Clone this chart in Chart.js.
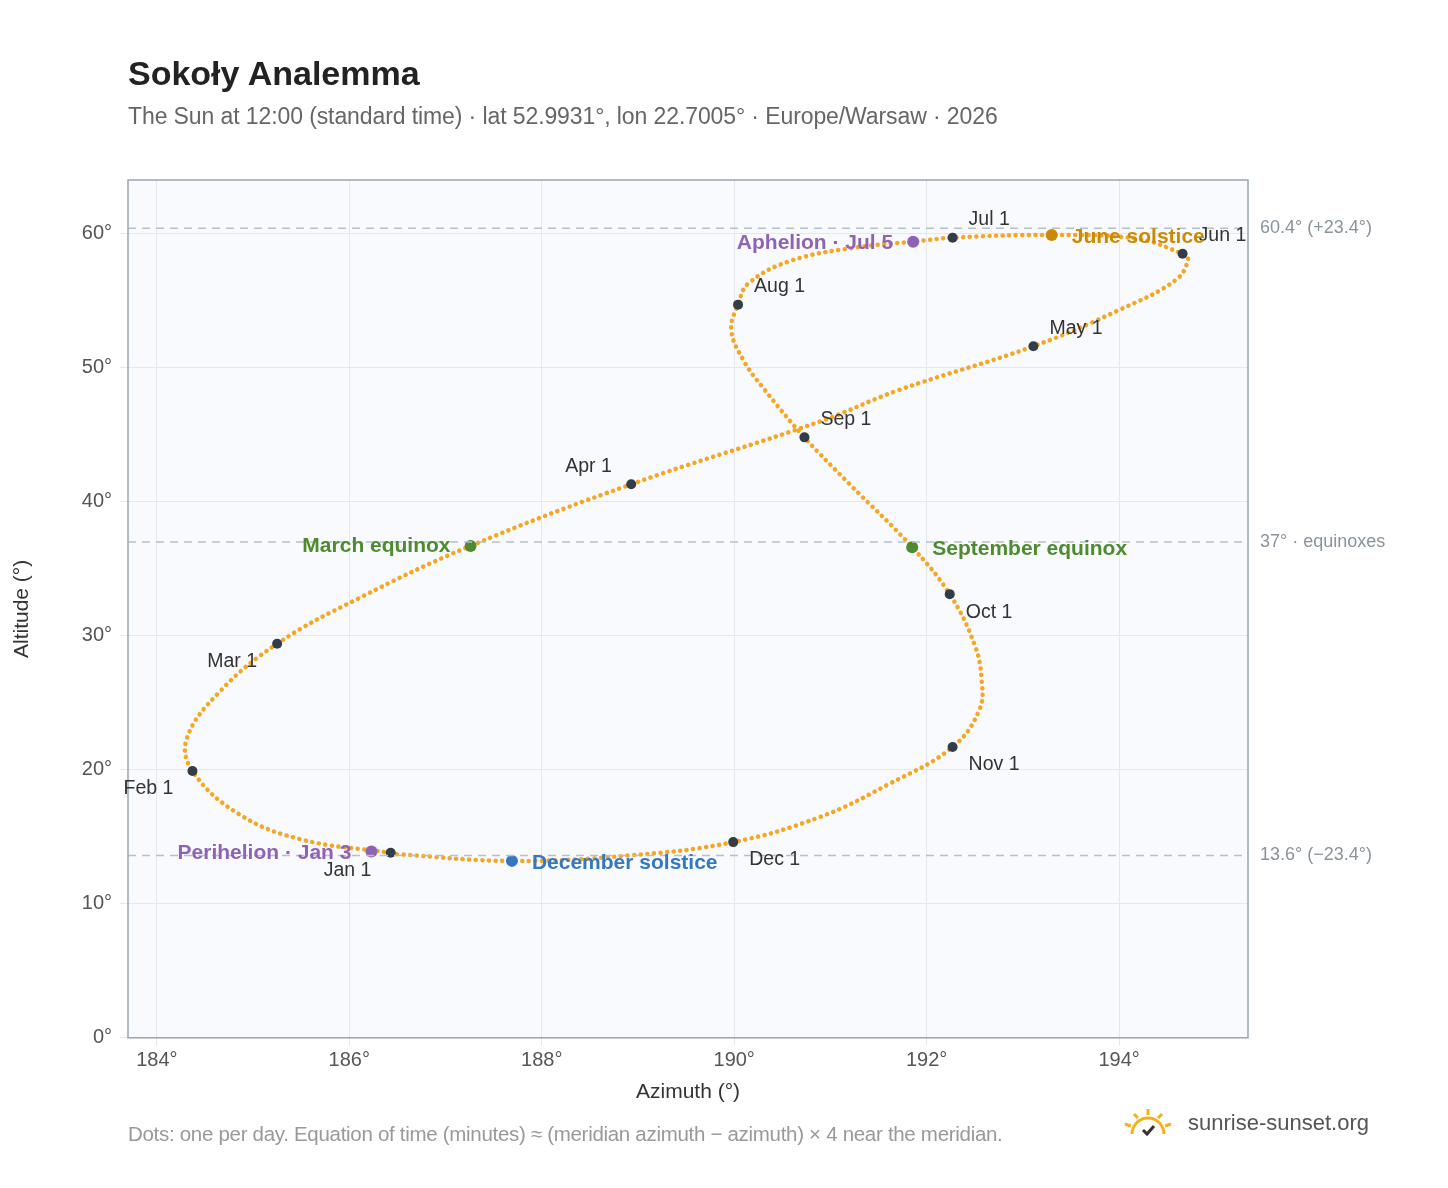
<!DOCTYPE html>
<html><head><meta charset="utf-8">
<script src="https://cdn.jsdelivr.net/npm/chart.js@4"></script>
<style>
body{margin:0;background:#fff;font-family:"Liberation Sans",Arial,sans-serif}
#wrap{position:relative;width:1448px;height:1188px}
canvas{position:absolute;left:0;top:0}
h1{position:absolute;left:128px;top:54px;margin:0;font-size:34px;color:#222}
.sub{position:absolute;left:128px;top:103px;font-size:23px;color:#666;letter-spacing:-0.1px}
.foot{position:absolute;left:128px;top:1122px;font-size:20.5px;color:#999;letter-spacing:-0.3px}
.logo{position:absolute;left:1120px;top:1106px;font-size:22px;color:#555;display:flex;align-items:center;gap:12px}
</style></head><body>
<div id="wrap">
<canvas id="c" width="1448" height="1188"></canvas>
<h1>Sokoły Analemma</h1>
<div class="sub">The Sun at 12:00 (standard time) · lat 52.9931°, lon 22.7005° · Europe/Warsaw · 2026</div>
<div class="foot">Dots: one per day. Equation of time (minutes) ≈ (meridian azimuth − azimuth) × 4 near the meridian.</div>
<div class="logo"><svg width="56" height="34" viewBox="0 0 56 34"><g stroke="#f5b01a" stroke-width="3" fill="none"><path d="M12 28a16 16 0 0 1 32 0"/><path d="M28 3v6M14 8l4 4M42 8l-4 4M5 18l6 2M51 18l-6 2"/></g><path d="M23 24l4 4 7-8" stroke="#333" stroke-width="3" fill="none"/></svg>sunrise-sunset.org</div>
</div>
<script>
// analemma path (azimuth, altitude), ~every 10 days
const pathAz = [186.43,185.5,184.85,184.37,184.31,184.65,185.25,186.1,187.26,188.93,190.9,191.7,193.11,194.0,194.6,194.72,194.66,194.2,193.30,192.27,191.86,191.3,190.6,190.15,190.04,189.97,190.1,190.3,190.73,191.2,191.85,192.24,192.5,192.57,192.55,192.27,191.6,190.9,189.99,188.9,187.69,186.5,186.43];
const pathAlt = [13.8,14.8,16.7,19.9,22.3,25.8,29.4,32.8,36.7,41.3,46.0,48.3,51.6,54.3,56.6,58.2,58.5,59.6,59.9,59.7,59.4,59.0,58.0,56.3,54.7,52.8,50.5,48.5,44.8,41.3,36.6,33.1,29.3,26.8,24.5,21.7,18.9,16.5,14.6,13.6,13.2,13.7,13.8];

const monthNames = ['Jan 1','Feb 1','Mar 1','Apr 1','May 1','Jun 1','Jul 1','Aug 1','Sep 1','Oct 1','Nov 1','Dec 1'];
const monthAz = [186.43,184.37,185.25,188.93,193.11,194.66,192.27,190.04,190.73,192.24,192.27,189.99];
const monthAlt = [13.8,19.9,29.4,41.3,51.6,58.5,59.7,54.7,44.8,33.1,21.7,14.6];

const eventNames = ['Perihelion · Jan 3','December solstice','March equinox','June solstice','Aphelion · Jul 5','September equinox'];
const eventAz = [186.23,187.69,187.26,193.30,191.86,191.85];
const eventAlt = [13.9,13.2,36.7,59.9,59.4,36.6];
const eventColors = ['#8e63b5','#3478c4','#4e8a2e','#cc8a00','#8e63b5','#4e8a2e'];

const refAlt = [60.4,37,13.6];
const refLabels = ['60.4° (+23.4°)','37° · equinoxes','13.6° (−23.4°)'];
const xTicks = [184,186,188,190,192,194];

// label offsets (px) and alignment
const monthOff = [[-67,18,'left'],[-69,18,'left'],[-70,18,'left'],[-66,-18,'left'],[16,-18,'left'],[16,-18,'left'],[16,-18,'left'],[16,-18,'left'],[16,-18,'left'],[16,18,'left'],[16,18,'left'],[16,18,'left']];
const eventOff = [[-20,2,'right'],[20,2,'left'],[-20,0,'right'],[20,2,'left'],[-20,2,'right'],[20,2,'left']];

const xy = (a,b)=>a.map((v,i)=>({x:v,y:b[i]}));

const deco = {
  id:'deco',
  beforeDraw(ch){
    const {ctx,chartArea:a} = ch;
    ctx.save();
    ctx.fillStyle='#f8fafd';
    ctx.fillRect(a.left,a.top,a.right-a.left,a.bottom-a.top);
    ctx.restore();
  },
  afterDraw(ch){
    const {ctx,chartArea:a,scales:{x,y}} = ch;
    ctx.save();
    ctx.setLineDash([8,6]); ctx.strokeStyle='#b5c0ca'; ctx.lineWidth=1.5;
    ctx.font='18px "Liberation Sans", Arial'; ctx.fillStyle='#8a939c'; ctx.textBaseline='middle';
    refAlt.forEach((v,i)=>{
      const py=y.getPixelForValue(v);
      ctx.beginPath(); ctx.moveTo(a.left,py); ctx.lineTo(a.right,py); ctx.stroke();
      ctx.fillText(refLabels[i],a.right+12,py);
    });
    ctx.setLineDash([]);
    ctx.strokeStyle='#9aa5b1'; ctx.lineWidth=1.5;
    ctx.strokeRect(a.left,a.top,a.right-a.left,a.bottom-a.top);
    ctx.font='19.5px "Liberation Sans", Arial'; ctx.fillStyle='#333';
    monthNames.forEach((n,i)=>{
      const o=monthOff[i]; ctx.textAlign=o[2];
      ctx.fillText(n,x.getPixelForValue(monthAz[i])+o[0],y.getPixelForValue(monthAlt[i])+o[1]);
    });
    ctx.font='bold 21px "Liberation Sans", Arial';
    eventNames.forEach((n,i)=>{
      const o=eventOff[i]; ctx.textAlign=o[2]; ctx.fillStyle=eventColors[i];
      ctx.fillText(n,x.getPixelForValue(eventAz[i])+o[0],y.getPixelForValue(eventAlt[i])+o[1]);
    });
    ctx.restore();
  }
};

new Chart(document.getElementById('c'),{
  type:'scatter',
  data:{datasets:[
    {data:xy(monthAz,monthAlt),pointRadius:5,pointBackgroundColor:'#333d47',pointBorderWidth:0,order:1},
    {data:xy(eventAz,eventAlt),pointRadius:6,pointBackgroundColor:eventColors,pointBorderWidth:0,order:0},
    {data:xy(pathAz,pathAlt),showLine:true,tension:0.4,borderColor:'#f5a623',borderWidth:4.5,borderDash:[0.1,6.5],borderCapStyle:'round',pointRadius:0,order:2}
  ]},
  options:{
    responsive:false,animation:false,
    layout:{padding:{left:6,right:200,top:180,bottom:79}},
    plugins:{legend:{display:false},tooltip:{enabled:false}},
    scales:{
      x:{min:183.7,max:195.34,
        afterBuildTicks:s=>{s.ticks=xTicks.map(v=>({value:v}));},
        ticks:{callback:v=>v+'°',color:'#555',font:{size:20,family:'Liberation Sans'}},
        grid:{color:'#e3e8ee',tickLength:8},border:{display:false},
        title:{display:true,text:'Azimuth (°)',color:'#333',font:{size:21,family:'Liberation Sans'}}},
      y:{min:0,max:64,
        afterBuildTicks:s=>{s.ticks=[0,10,20,30,40,50,60].map(v=>({value:v}));},
        afterFit:s=>{s.width=122;},
        ticks:{callback:v=>v+'°',color:'#555',padding:8,font:{size:20,family:'Liberation Sans'}},
        grid:{color:'#e3e8ee',tickLength:8},border:{display:false},
        title:{display:true,text:'Altitude (°)',color:'#333',font:{size:21,family:'Liberation Sans'}}}
    }
  },
  plugins:[deco]
});
</script>
</body></html>
